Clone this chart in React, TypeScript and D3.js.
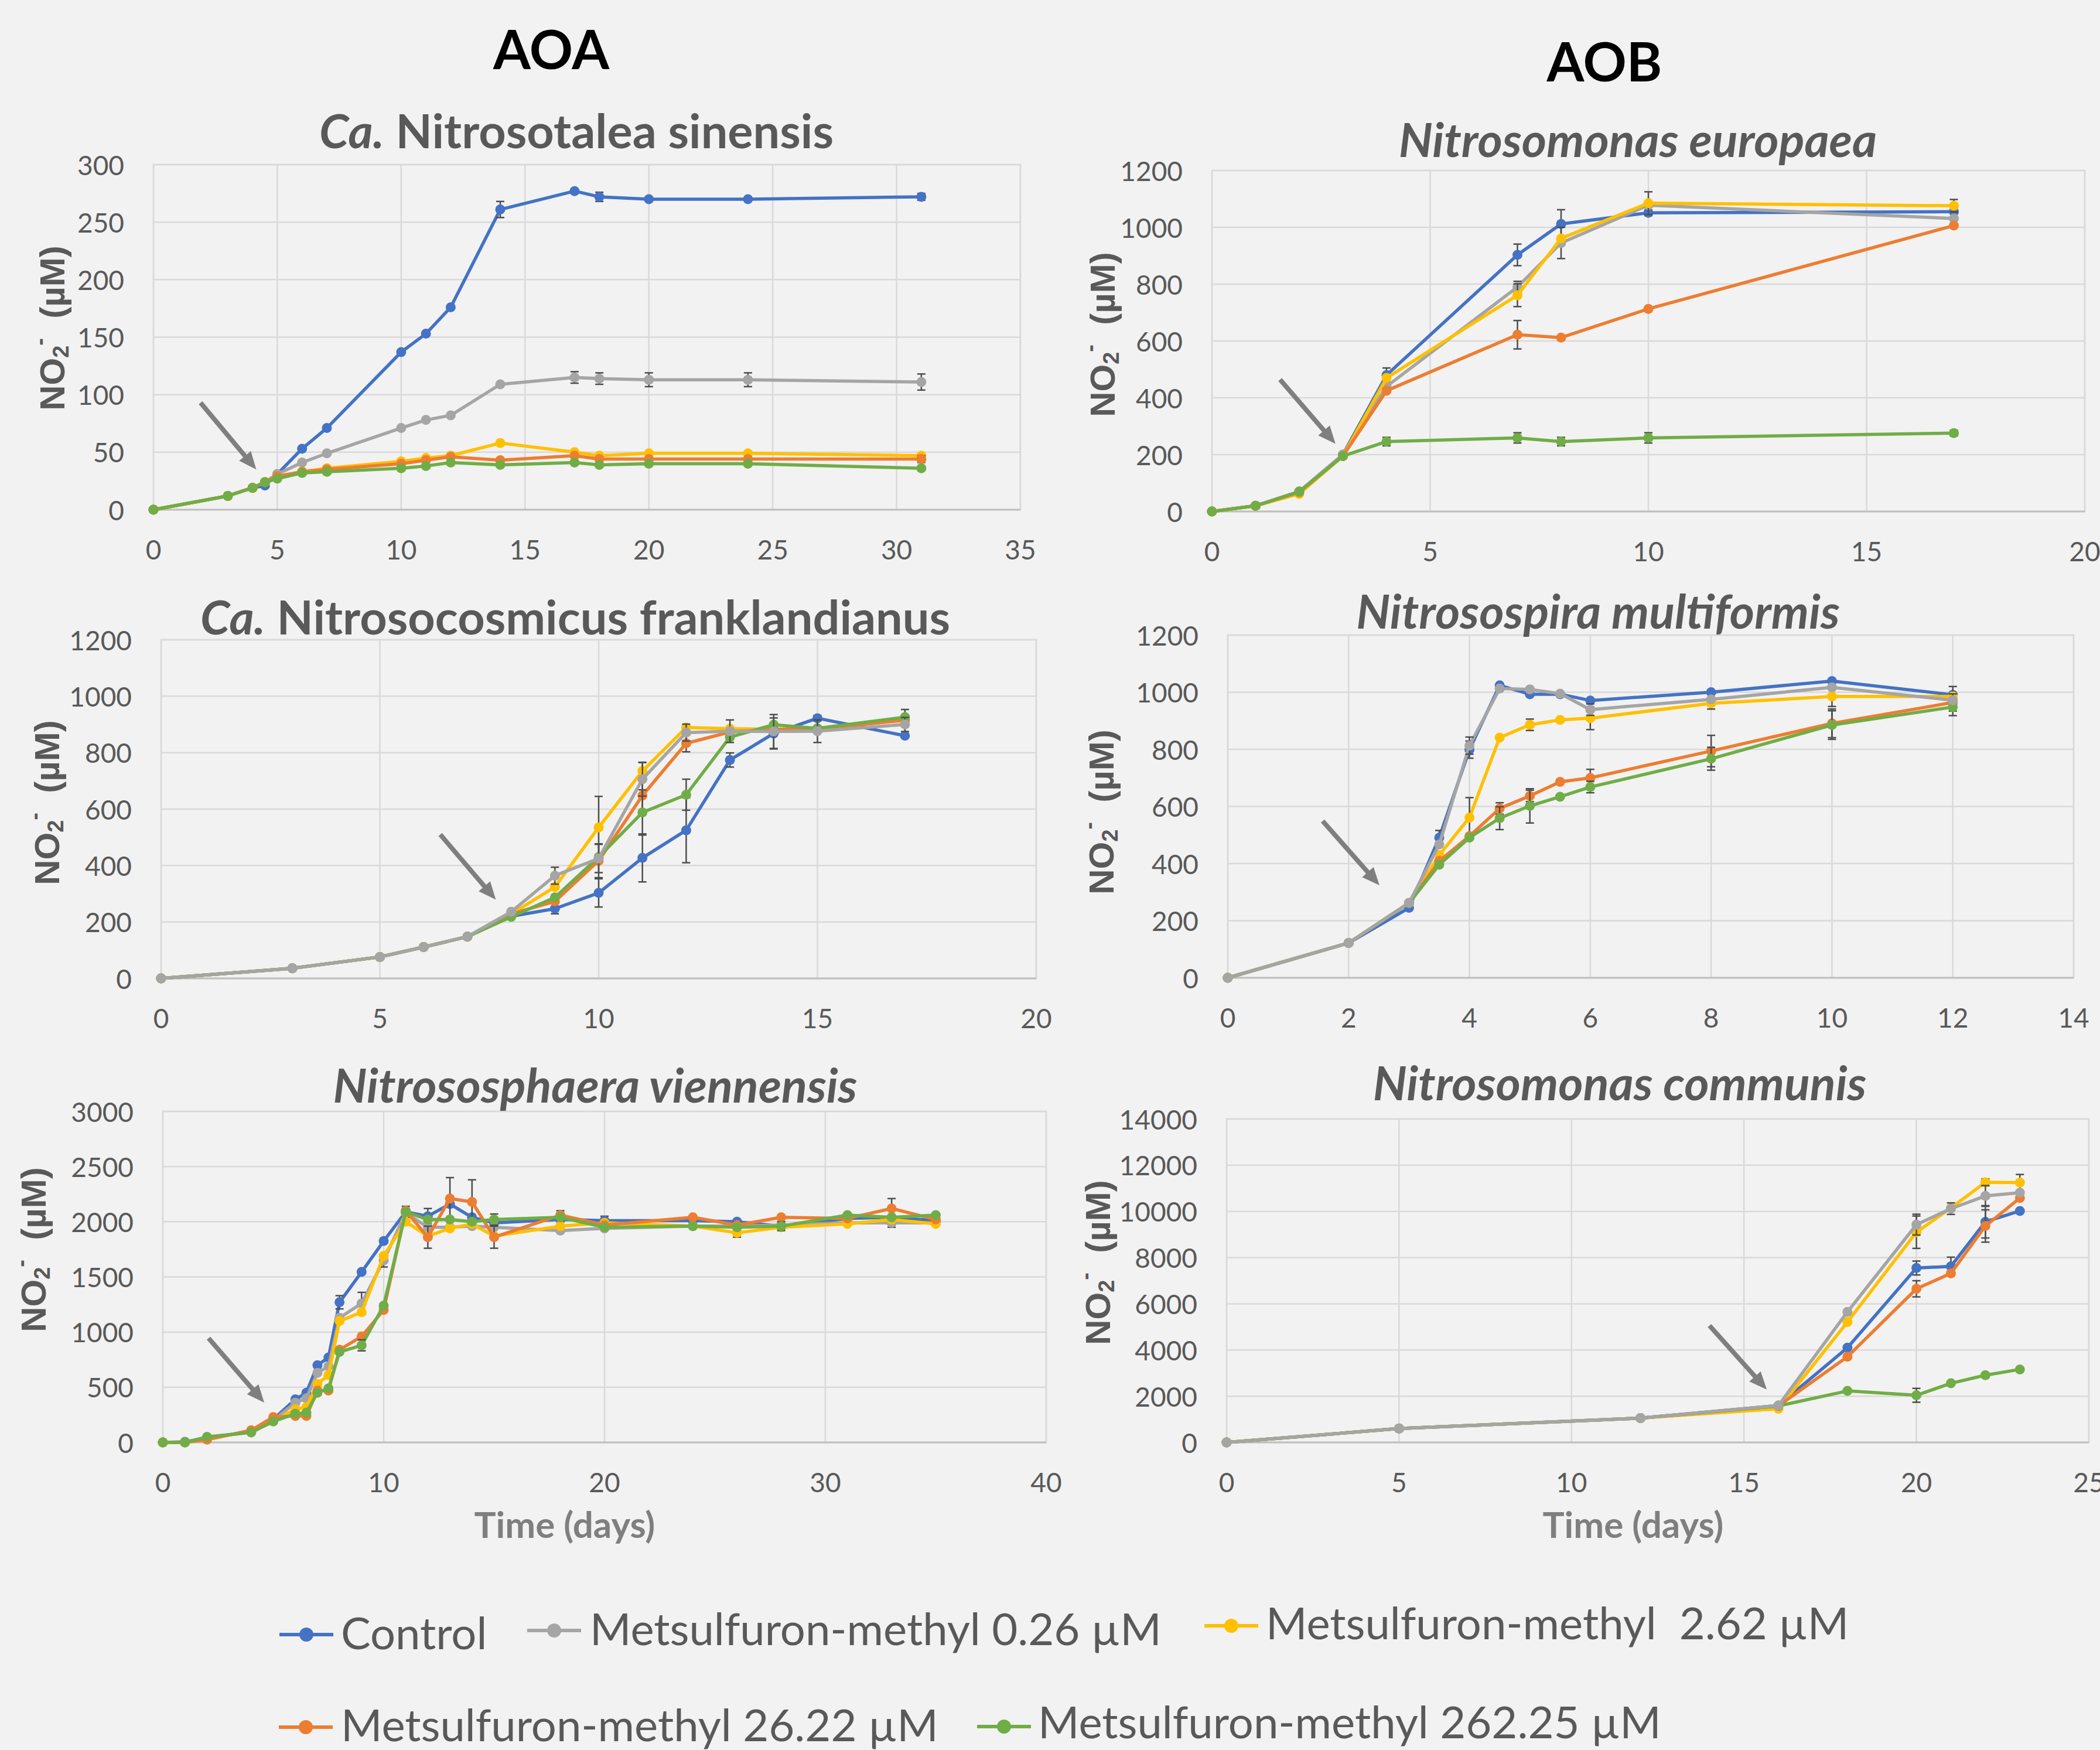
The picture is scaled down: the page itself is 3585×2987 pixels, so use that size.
import * as d3 from "d3";

const W = 3585;
const H = 2987;
const FONT = "Lato, 'Open Sans', sans-serif";
const INK = "#595959";
const GRID = "#d9d9d9";

const seriesNames = [
  "Control",
  "Metsulfuron-methyl 0.26 µM",
  "Metsulfuron-methyl  2.62 µM",
  "Metsulfuron-methyl 26.22 µM",
  "Metsulfuron-methyl 262.25 µM",
];
const seriesColors = ["#4472C4", "#A5A5A5", "#FFC000", "#ED7D31", "#70AD47"];

// Ca. Nitrosotalea sinensis
const p1Days = [0, 3, 4, 4.5, 5, 6, 7, 10, 11, 12, 14, 17, 18, 20, 24, 31];
const p1Control = [0, 12, 19, 21, 31, 53, 71, 137, 153, 176, 261, 277, 272, 270, 270, 272];
const p1Low = [0, 12, 19, 24, 31, 41, 49, 71, 78, 82, 109, 115, 114, 113, 113, 111];
const p1Mid = [0, 12, 19, 24, 29, 33, 36, 42, 45, 47, 58, 50, 47, 49, 49, 47];
const p1High = [0, 12, 19, 24, 29, 33, 35, 40, 43, 46, 43, 47, 44, 44, 44, 44];
const p1Max = [0, 12, 19, 24, 27, 32, 33, 36, 38, 41, 39, 41, 39, 40, 40, 36];
// [series, day, sd]
const p1Errors = [
  [0, 14, 7], [0, 18, 4], [0, 31, 3],
  [1, 17, 5], [1, 18, 5], [1, 20, 6], [1, 24, 6], [1, 31, 7],
  [3, 31, 3],
];

// Nitrosomonas europaea
const p2Days = [0, 1, 2, 3, 4, 7, 8, 10, 17];
const p2Control = [0, 20, 70, 200, 480, 903, 1012, 1051, 1055];
const p2Low = [0, 20, 70, 200, 440, 790, 945, 1078, 1031];
const p2Mid = [0, 20, 62, 195, 470, 761, 961, 1085, 1076];
const p2High = [0, 20, 68, 195, 425, 622, 612, 713, 1006];
const p2Max = [0, 20, 70, 195, 246, 259, 246, 259, 276];
const p2Errors = [
  [0, 4, 25], [0, 7, 38], [0, 8, 50], [0, 10, 10],
  [1, 7, 20], [1, 8, 55],
  [2, 7, 40], [2, 10, 40], [2, 17, 22],
  [3, 7, 50],
  [4, 4, 15], [4, 7, 18], [4, 8, 15], [4, 10, 18], [4, 17, 10],
];

// Ca. Nitrosocosmicus franklandianus
const p3Days = [0, 3, 5, 6, 7, 8, 9, 10, 11, 12, 13, 14, 15, 17];
const p3Control = [0, 36, 76, 111, 148, 220, 247, 303, 427, 525, 774, 868, 922, 860];
const p3Low = [0, 36, 76, 111, 148, 236, 364, 425, 706, 871, 876, 875, 876, 900];
const p3Mid = [0, 36, 76, 111, 148, 228, 324, 535, 735, 889, 885, 883, 886, 923];
const p3High = [0, 36, 76, 111, 148, 228, 273, 417, 648, 833, 873, 883, 884, 915];
const p3Max = [0, 36, 76, 111, 148, 218, 287, 430, 588, 651, 855, 899, 886, 926];
const p3Errors = [
  [0, 9, 18], [0, 10, 50], [0, 11, 85], [0, 12, 115], [0, 13, 25], [0, 14, 55], [0, 15, 10],
  [1, 9, 30], [1, 10, 50], [1, 11, 60], [1, 12, 30], [1, 13, 40], [1, 14, 60], [1, 15, 40], [1, 17, 25],
  [2, 10, 110], [2, 11, 30], [2, 17, 30],
  [3, 10, 60], [3, 11, 60], [3, 12, 30],
  [4, 11, 80], [4, 12, 55],
];

// Nitrosospira multiformis
const p4Days = [0, 2, 3, 3.5, 4, 4.5, 5, 5.5, 6, 8, 10, 12];
const p4Control = [0, 122, 245, 491, 799, 1024, 993, 993, 971, 1000, 1039, 991];
const p4Low = [0, 122, 262, 467, 813, 1013, 1010, 995, 939, 975, 1017, 972];
const p4Mid = [0, 122, 262, 430, 561, 841, 886, 903, 909, 961, 985, 985];
const p4High = [0, 122, 262, 409, 496, 593, 637, 686, 700, 794, 891, 964];
const p4Max = [0, 122, 262, 396, 491, 559, 602, 634, 668, 767, 885, 948];
const p4Errors = [
  [0, 3.5, 25], [0, 4, 30],
  [1, 4, 30], [1, 6, 20],
  [2, 4, 70], [2, 5, 20], [2, 6, 40], [2, 8, 20], [2, 10, 35], [2, 12, 35],
  [3, 4.5, 20], [3, 5, 20], [3, 6, 30], [3, 8, 55], [3, 10, 50], [3, 12, 30],
  [4, 4.5, 40], [4, 5, 60], [4, 6, 20], [4, 8, 40], [4, 10, 50], [4, 12, 30],
];

// Nitrososphaera viennensis
const p5Days = [0, 1, 2, 4, 5, 6, 6.5, 7, 7.5, 8, 9, 10, 11, 12, 13, 14, 15, 18, 20, 24, 26, 28, 31, 33, 35];
const p5Control = [0, 5, 40, 100, 210, 390, 450, 700, 770, 1270, 1545, 1825, 2090, 2050, 2160, 2040, 1990, 2020, 2010, 2010, 2000, 1960, 2030, 2040, 2010];
const p5Low = [0, 0, 40, 95, 200, 360, 400, 630, 690, 1130, 1260, 1650, 2080, 1950, 1950, 1960, 1950, 1920, 1940, 1960, 1960, 1970, 1990, 1990, 1990];
const p5Mid = [0, 0, 40, 95, 200, 300, 320, 530, 610, 1100, 1180, 1690, 2000, 1870, 1940, 1980, 1870, 1960, 1990, 1960, 1900, 1950, 1980, 2020, 1980];
const p5High = [0, 0, 25, 110, 230, 240, 240, 470, 470, 840, 960, 1200, 2100, 1860, 2210, 2180, 1860, 2060, 1970, 2040, 1970, 2040, 2030, 2120, 2020];
const p5Max = [0, 0, 50, 90, 190, 260, 270, 450, 490, 820, 880, 1240, 2090, 2020, 2020, 2000, 2020, 2040, 1950, 1960, 1950, 1960, 2060, 2040, 2060];
const p5Errors = [
  [0, 8, 60], [0, 11, 50], [0, 12, 70], [0, 20, 40],
  [1, 9, 100], [1, 10, 60], [1, 26, 40], [1, 33, 40],
  [2, 26, 40],
  [3, 12, 100], [3, 13, 190], [3, 14, 200], [3, 15, 100], [3, 18, 40], [3, 33, 90],
  [4, 9, 50], [4, 15, 50], [4, 28, 40],
];

// Nitrosomonas communis
const p6Days = [0, 5, 12, 16, 18, 20, 21, 22, 23];
const p6Control = [0, 600, 1050, 1600, 4100, 7550, 7620, 9550, 10020];
const p6Low = [0, 600, 1050, 1600, 5650, 9430, 10120, 10670, 10810];
const p6Mid = [0, 600, 1050, 1460, 5210, 9100, 10150, 11260, 11250];
const p6High = [0, 600, 1050, 1580, 3710, 6650, 7320, 9370, 10580];
const p6Max = [0, 600, 1050, 1580, 2230, 2040, 2560, 2910, 3160];
const p6Errors = [
  [0, 20, 300], [0, 21, 400], [0, 22, 700],
  [1, 20, 450], [1, 21, 250], [1, 22, 450],
  [2, 20, 700], [2, 22, 150], [2, 23, 350],
  [3, 20, 350], [3, 22, 700],
  [4, 20, 300],
];

const panels = [
  {
    ca: true, name: "Nitrosotalea sinensis",
    days: p1Days, series: [p1Control, p1Low, p1Mid, p1High, p1Max], errors: p1Errors,
    xMax: 35, xStep: 5, yMax: 300, yStep: 50,
    box: { l: 262, r: 1742, t: 281, b: 870 },
    titleX: 984, titleY: 253, labelX: 89, labelY: 560,
    arrow: [1.9, 93, 4.15, 35], order: [0, 1, 2, 3, 4], time: false,
  },
  {
    ca: false, name: "Nitrosomonas europaea",
    days: p2Days, series: [p2Control, p2Low, p2Mid, p2High, p2Max], errors: p2Errors,
    xMax: 20, xStep: 5, yMax: 1200, yStep: 200,
    box: { l: 2069, r: 3559, t: 291, b: 873 },
    titleX: 2796, titleY: 268, labelX: 1882, labelY: 571,
    arrow: [1.56, 464, 2.83, 238], order: [0, 1, 2, 3, 4], time: false,
  },
  {
    ca: true, name: "Nitrosocosmicus franklandianus",
    days: p3Days, series: [p3Control, p3Low, p3Mid, p3High, p3Max], errors: p3Errors,
    xMax: 20, xStep: 5, yMax: 1200, yStep: 200,
    box: { l: 275, r: 1769, t: 1092, b: 1670 },
    titleX: 982, titleY: 1083, labelX: 80, labelY: 1370,
    arrow: [6.38, 510, 7.65, 279], order: [0, 2, 3, 4, 1], time: false,
  },
  {
    ca: false, name: "Nitrosospira multiformis",
    days: p4Days, series: [p4Control, p4Low, p4Mid, p4High, p4Max], errors: p4Errors,
    xMax: 14, xStep: 2, yMax: 1200, yStep: 200,
    box: { l: 2096, r: 3540, t: 1084, b: 1669 },
    titleX: 2728, titleY: 1073, labelX: 1880, labelY: 1386,
    arrow: [1.57, 549, 2.51, 324], order: [0, 2, 3, 4, 1], time: false,
  },
  {
    ca: false, name: "Nitrososphaera viennensis",
    days: p5Days, series: [p5Control, p5Low, p5Mid, p5High, p5Max], errors: p5Errors,
    xMax: 40, xStep: 10, yMax: 3000, yStep: 500,
    box: { l: 278, r: 1786, t: 1897, b: 2462 },
    titleX: 1016, titleY: 1882, labelX: 57, labelY: 2133,
    arrow: [2.07, 945, 4.59, 361], order: [0, 1, 2, 3, 4], time: true, timeX: 964,
  },
  {
    ca: false, name: "Nitrosomonas communis",
    days: p6Days, series: [p6Control, p6Low, p6Mid, p6High, p6Max], errors: p6Errors,
    xMax: 25, xStep: 5, yMax: 14000, yStep: 2000,
    box: { l: 2094, r: 3566, t: 1910, b: 2462 },
    titleX: 2765, titleY: 1878, labelX: 1874, labelY: 2155,
    arrow: [14.0, 5057, 15.66, 2290], order: [0, 2, 3, 4, 1], time: true, timeX: 2788,
  },
];

function Arrow({ x1, y1, x2, y2 }) {
  const dx = x2 - x1;
  const dy = y2 - y1;
  const len = Math.sqrt(dx * dx + dy * dy);
  const ux = dx / len;
  const uy = dy / len;
  const hl = 30;
  const hw = 13;
  const bx = x2 - ux * hl;
  const by = y2 - uy * hl;
  const pts = [
    [x2, y2],
    [bx - uy * hw, by + ux * hw],
    [bx + uy * hw, by - ux * hw],
  ];
  return (
    <g>
      <line x1={x1} y1={y1} x2={bx + ux * 2} y2={by + uy * 2} stroke="#7f7f7f" strokeWidth={8} />
      <polygon points={pts.map((p) => p.join(",")).join(" ")} fill="#7f7f7f" />
    </g>
  );
}

function Panel({ p }) {
  const { box } = p;
  const x = d3.scaleLinear().domain([0, p.xMax]).range([box.l, box.r]);
  const y = d3.scaleLinear().domain([0, p.yMax]).range([box.b, box.t]);
  const xTicks = d3.range(0, p.xMax + p.xStep / 2, p.xStep);
  const yTicks = d3.range(0, p.yMax + p.yStep / 2, p.yStep);
  const line = d3
    .line()
    .x((d) => x(d[0]))
    .y((d) => y(d[1]));

  return (
    <g>
      {yTicks.map((t) => (
        <line key={"gy" + t} x1={box.l} x2={box.r} y1={y(t)} y2={y(t)} stroke={GRID} strokeWidth={2.5} />
      ))}
      {xTicks.map((t) => (
        <line key={"gx" + t} x1={x(t)} x2={x(t)} y1={box.t} y2={box.b} stroke={GRID} strokeWidth={2.5} />
      ))}
      <rect x={box.l} y={box.t} width={box.r - box.l} height={box.b - box.t} fill="none" stroke={GRID} strokeWidth={2.5} />
      <line x1={box.l} x2={box.r} y1={box.b} y2={box.b} stroke="#bfbfbf" strokeWidth={3} />

      {yTicks.map((t) => (
        <text key={"ty" + t} x={box.l - 50} y={y(t)} textAnchor="end" dominantBaseline="central"
          fontFamily={FONT} fontSize={46} fill={INK}>{t}</text>
      ))}
      {xTicks.map((t) => (
        <text key={"tx" + t} x={x(t)} y={box.b + 85} textAnchor="middle"
          fontFamily={FONT} fontSize={46} fill={INK}>{t}</text>
      ))}

      <text x={p.titleX} y={p.titleY} textAnchor="middle" fontFamily={FONT} fontSize={81}
        fontWeight="bold" fill={INK} style={{ whiteSpace: "pre" }}>
        {p.ca ? (
          <>
            <tspan fontStyle="italic">Ca.</tspan>
            <tspan> {p.name}</tspan>
          </>
        ) : (
          <tspan fontStyle="italic">{p.name}</tspan>
        )}
      </text>

      <text transform={`translate(${p.labelX},${p.labelY}) rotate(-90)`} textAnchor="middle"
        dominantBaseline="central" fontFamily="'Liberation Sans', Arial, sans-serif" fontSize={60}
        fontWeight="bold" fill={INK} style={{ whiteSpace: "pre" }}>
        <tspan>NO</tspan>
        <tspan fontSize={38} dy={15}>2</tspan>
        <tspan fontSize={38} dy={-36}>-</tspan>
        <tspan dy={21}>  (µM)</tspan>
      </text>

      {p.time && (
        <text x={p.timeX} y={2625} textAnchor="middle" fontFamily={FONT} fontSize={62}
          fontWeight="bold" fill="#7f7f7f">Time (days)</text>
      )}

      <Arrow x1={x(p.arrow[0])} y1={y(p.arrow[1])} x2={x(p.arrow[2])} y2={y(p.arrow[3])} />

      {p.order.map((si) => {
        const vals = p.series[si];
        const pts = p.days.map((d, i) => [d, vals[i]]);
        const errs = p.errors.filter((e) => e[0] === si);
        return (
          <g key={"s" + si}>
            <path d={line(pts)} fill="none" stroke={seriesColors[si]} strokeWidth={5.5} strokeLinejoin="round" />
            {errs.map((e, k) => {
              const v = vals[p.days.indexOf(e[1])];
              const cx = x(e[1]);
              const ya = y(v + e[2]);
              const yb = y(v - e[2]);
              return (
                <g key={"e" + k} stroke="#4d4d4d" strokeWidth={2.5}>
                  <line x1={cx} x2={cx} y1={ya} y2={yb} />
                  <line x1={cx - 7} x2={cx + 7} y1={ya} y2={ya} />
                  <line x1={cx - 7} x2={cx + 7} y1={yb} y2={yb} />
                </g>
              );
            })}
            {pts.map((d, i) => (
              <circle key={i} cx={x(d[0])} cy={y(d[1])} r={8.5} fill={seriesColors[si]} />
            ))}
          </g>
        );
      })}
    </g>
  );
}

const legendLayout = [
  { mx: 477, tx: 582, ly: 2790, by: 2815 },
  { mx: 900, tx: 1007, ly: 2783, by: 2808 },
  { mx: 2056, tx: 2161, ly: 2775, by: 2798 },
  { mx: 476, tx: 582, ly: 2948, by: 2972 },
  { mx: 1668, tx: 1772, ly: 2947, by: 2967 },
];

export default function App() {
  return (
    <svg width={W} height={H} viewBox={`0 0 ${W} ${H}`}
      style={{ position: "absolute", left: 0, top: 0, display: "block" }}>
      <rect width={W} height={H} fill="#f2f2f2" />
      <text x={941} y={118} textAnchor="middle" fontFamily={FONT} fontSize={92} fontWeight="bold" fill="#000">AOA</text>
      <text x={2739} y={139} textAnchor="middle" fontFamily={FONT} fontSize={92} fontWeight="bold" fill="#000">AOB</text>
      {panels.map((p, i) => (
        <Panel key={i} p={p} />
      ))}
      {seriesNames.map((name, i) => {
        const L = legendLayout[i];
        return (
          <g key={"lg" + i}>
            <line x1={L.mx} x2={L.mx + 92} y1={L.ly} y2={L.ly} stroke={seriesColors[i]} strokeWidth={6} />
            <circle cx={L.mx + 46} cy={L.ly} r={12} fill={seriesColors[i]} />
            <text x={L.tx} y={L.by} fontFamily={FONT} fontSize={76} fill={INK} style={{ whiteSpace: "pre" }}>{name}</text>
          </g>
        );
      })}
    </svg>
  );
}
